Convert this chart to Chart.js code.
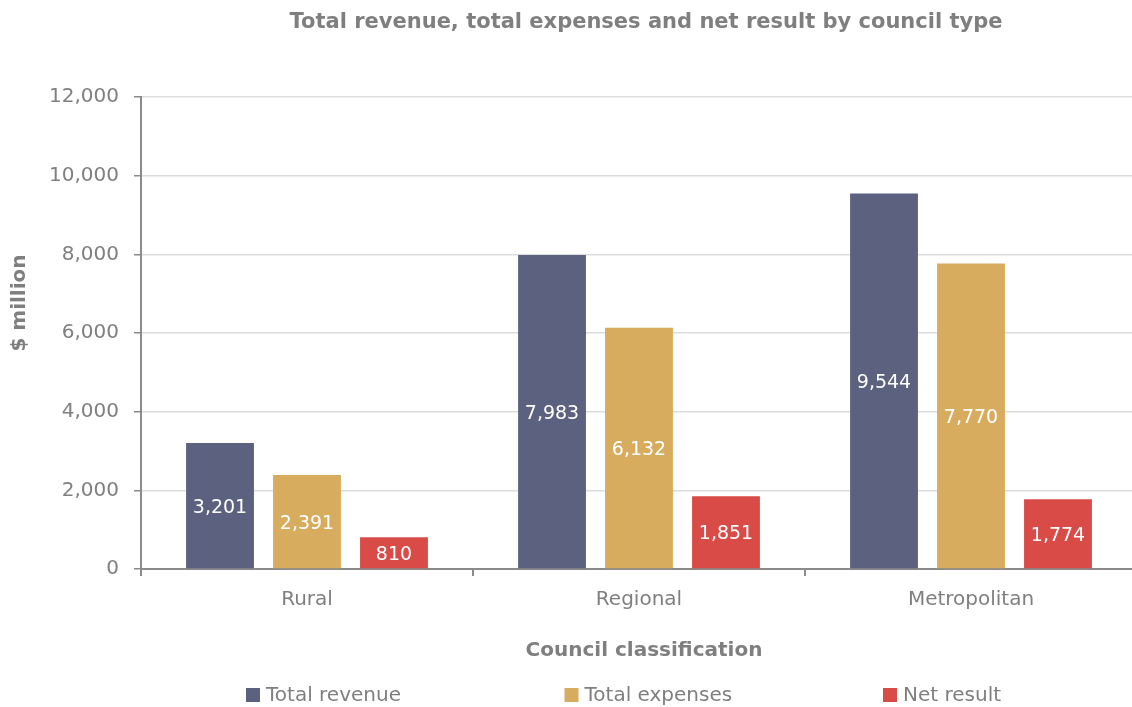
<!DOCTYPE html>
<html>
<head>
<meta charset="utf-8">
<script src="https://cdn.jsdelivr.net/npm/chart.js@4"></script>
<style>
  html, body { margin: 0; padding: 0; background: #ffffff; overflow: hidden; }
  #wrap { width: 1132px; height: 707px; position: relative; overflow: hidden; }
  canvas { display: block; }
</style>
</head>
<body>
<div id="wrap"><canvas id="c" width="1137" height="707"></canvas></div>
<script>
const chartTitle = 'Total revenue, total expenses and net result by council type';
const categories = ['Rural', 'Regional', 'Metropolitan'];
const seriesNames = ['Total revenue', 'Total expenses', 'Net result'];
const totalRevenue = [3201, 7983, 9544];
const totalExpenses = [2391, 6132, 7770];
const netResult = [810, 1851, 1774];
const yTicks = [0, 2000, 4000, 6000, 8000, 10000, 12000];
const xTitle = 'Council classification';
const yTitle = '$ million';

const colors = ['#5b617e', '#d8ac5e', '#d94b47'];
const GRAY = '#7f7f7f';
const FONT = "'DejaVu Sans', sans-serif";

const fmt = v => Number(v).toLocaleString('en-US');

const labelPlugin = {
  id: 'barLabels',
  afterDatasetsDraw(chart) {
    const ctx = chart.ctx;
    ctx.save();
    ctx.fillStyle = '#ffffff';
    ctx.font = '19px ' + FONT;
    ctx.textAlign = 'center';
    ctx.textBaseline = 'middle';
    chart.data.datasets.forEach((ds, i) => {
      const meta = chart.getDatasetMeta(i);
      meta.data.forEach((bar, j) => {
        const y = (bar.y + bar.base) / 2;
        ctx.fillText(fmt(ds.data[j]), bar.x, y + 2);
      });
    });
    ctx.restore();
  }
};

const titleLegendPlugin = {
  id: 'titleLegend',
  afterDraw(chart) {
    const ctx = chart.ctx;
    const ca = chart.chartArea;
    const cx = (ca.left + ca.right) / 2;
    ctx.save();
    ctx.fillStyle = GRAY;
    ctx.textAlign = 'center';
    ctx.textBaseline = 'middle';
    ctx.font = "bold 21px " + FONT;
    ctx.fillText(chartTitle, cx + 7, 23);

    // axis titles
    ctx.font = "bold 20px " + FONT;
    ctx.fillText(xTitle, cx + 5, 651);
    ctx.save();
    ctx.translate(20, (ca.top + ca.bottom) / 2 - 30);
    ctx.rotate(-Math.PI / 2);
    ctx.fillText(yTitle, 0, 0);
    ctx.restore();

    // legend
    const slot = 318.5;
    const start0 = cx - 393;
    ctx.font = '20px ' + FONT;
    ctx.textAlign = 'left';
    chart.data.datasets.forEach((ds, i) => {
      const x = start0 + i * slot;
      const y = 695;
      ctx.fillStyle = ds.backgroundColor;
      ctx.fillRect(x, y - 7, 14, 14);
      ctx.fillStyle = GRAY;
      ctx.fillText(ds.label, x + 20, y + 1);
    });
    ctx.restore();
  }
};

const datasets = [totalRevenue, totalExpenses, netResult].map((d, i) => ({
  label: seriesNames[i],
  data: d,
  backgroundColor: colors[i],
  borderWidth: 0,
  categoryPercentage: 0.786,
  barPercentage: 0.78
}));

new Chart(document.getElementById('c'), {
  type: 'bar',
  data: { labels: categories, datasets },
  options: {
    responsive: false,
    animation: false,
    layout: { padding: { top: 97, bottom: 38, left: 0, right: 0 } },
    plugins: {
      legend: { display: false },
      title: { display: false },
      tooltip: { enabled: false }
    },
    scales: {
      x: {
        afterFit(s) { s.height = 100; },
        grid: {
          offset: true,
          drawOnChartArea: false,
          drawTicks: true,
          tickLength: 7,
          tickColor: '#8a8a8a',
          lineWidth: 2
        },
        border: { color: '#8a8a8a', width: 2 },
        ticks: { color: GRAY, font: { family: FONT, size: 20 }, padding: 12 },
        title: { display: false }
      },
      y: {
        min: 0, max: 12000,
        afterFit(s) { s.width = 141; },
        afterBuildTicks(s) { s.ticks = yTicks.map(v => ({ value: v })); },
        grid: {
          color: '#dcdcdc',
          lineWidth: 1.5,
          tickLength: 7,
          tickColor: '#8a8a8a'
        },
        border: { color: '#8a8a8a', width: 2 },
        ticks: {
          color: GRAY, font: { family: FONT, size: 20 }, padding: 15,
          callback: v => fmt(v)
        },
        title: { display: false }
      }
    }
  },
  plugins: [labelPlugin, titleLegendPlugin]
});
</script>
</body>
</html>
